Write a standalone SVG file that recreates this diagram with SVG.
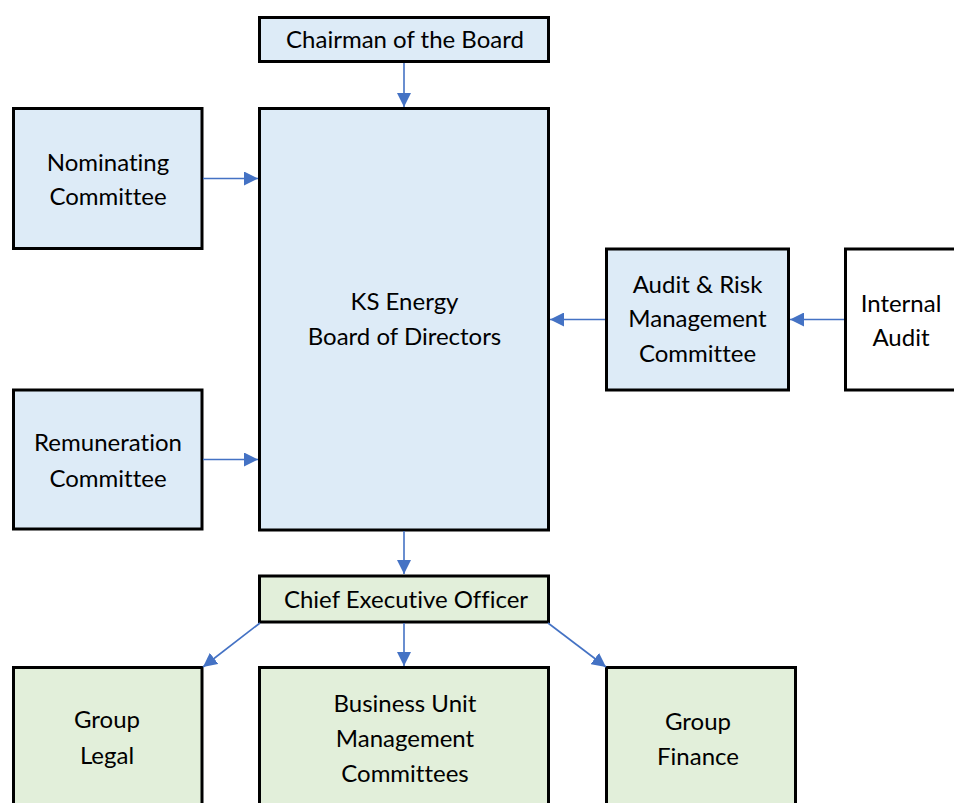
<svg xmlns="http://www.w3.org/2000/svg" width="954" height="803" viewBox="0 0 954 803">
  <defs>
    <style>
      .box { stroke: #000000; stroke-width: 3; }
      .blue { fill: #DDEBF7; }
      .green { fill: #E2EFDA; }
      .white { fill: #FFFFFF; }
      .lbl { font-family: "Lato", "Open Sans", sans-serif; font-size: 24px; fill: #000000; text-anchor: middle; font-variant-ligatures: none; font-feature-settings: "liga" 0, "clig" 0; }
      .conn { stroke: #4472C4; stroke-width: 1.6; fill: none; marker-end: url(#arrow); }
    </style>
    <marker id="arrow" markerUnits="userSpaceOnUse" markerWidth="14" markerHeight="14" viewBox="0 0 14 14" refX="14" refY="7" orient="auto">
      <path d="M0,0 L14,7 L0,14 Z" fill="#4472C4"/>
    </marker>
  </defs>

  <rect width="954" height="803" fill="#FFFFFF"/>

  <g id="chairman">
    <rect class="box blue" x="259.5" y="17.5" width="289" height="44"/>
    <text class="lbl" x="405" y="48">Chairman of the Board</text>
  </g>

  <g id="board">
    <rect class="box blue" x="259.5" y="108.5" width="289" height="421.5"/>
    <text class="lbl" x="404.5" y="310">KS Energy</text>
    <text class="lbl" x="404.5" y="345">Board of Directors</text>
  </g>

  <g id="nominating">
    <rect class="box blue" x="13.5" y="108.5" width="188.5" height="140"/>
    <text class="lbl" x="108" y="171">Nominating</text>
    <text class="lbl" x="108" y="205">Committee</text>
  </g>

  <g id="remuneration">
    <rect class="box blue" x="13.5" y="390" width="188.5" height="139"/>
    <text class="lbl" x="108" y="451">Remuneration</text>
    <text class="lbl" x="108" y="487">Committee</text>
  </g>

  <g id="audit-risk">
    <rect class="box blue" x="606.5" y="249" width="182" height="141"/>
    <text class="lbl" x="697.5" y="293">Audit &amp; Risk</text>
    <text class="lbl" x="697.5" y="327">Management</text>
    <text class="lbl" x="697.5" y="362">Committee</text>
  </g>

  <g id="internal-audit">
    <rect class="box white" x="845.5" y="249" width="112" height="141"/>
    <text class="lbl" x="901" y="312">Internal</text>
    <text class="lbl" x="901" y="346">Audit</text>
  </g>

  <g id="ceo">
    <rect class="box green" x="259.5" y="576" width="289" height="46"/>
    <text class="lbl" x="406" y="608">Chief Executive Officer</text>
  </g>

  <g id="group-legal">
    <rect class="box green" x="13.5" y="667.5" width="188.5" height="150"/>
    <text class="lbl" x="107" y="728">Group</text>
    <text class="lbl" x="107" y="764">Legal</text>
  </g>

  <g id="business-units">
    <rect class="box green" x="259.5" y="667.5" width="289" height="150"/>
    <text class="lbl" x="405" y="712">Business Unit</text>
    <text class="lbl" x="405" y="747">Management</text>
    <text class="lbl" x="405" y="782">Committees</text>
  </g>

  <g id="group-finance">
    <rect class="box green" x="606.5" y="667.5" width="189" height="150"/>
    <text class="lbl" x="698" y="730">Group</text>
    <text class="lbl" x="698" y="765">Finance</text>
  </g>

  <g id="connectors">
    <line class="conn" x1="404" y1="63" x2="404" y2="107"/>
    <line class="conn" x1="203" y1="178.5" x2="258" y2="178.5"/>
    <line class="conn" x1="203" y1="459.5" x2="258" y2="459.5"/>
    <line class="conn" x1="605" y1="319.5" x2="550" y2="319.5"/>
    <line class="conn" x1="844" y1="319.5" x2="790" y2="319.5"/>
    <line class="conn" x1="404" y1="531" x2="404" y2="574"/>
    <line class="conn" x1="404" y1="623" x2="404" y2="666"/>
    <line class="conn" x1="260" y1="623" x2="203" y2="667"/>
    <line class="conn" x1="548" y1="623" x2="606" y2="667"/>
  </g>
</svg>
